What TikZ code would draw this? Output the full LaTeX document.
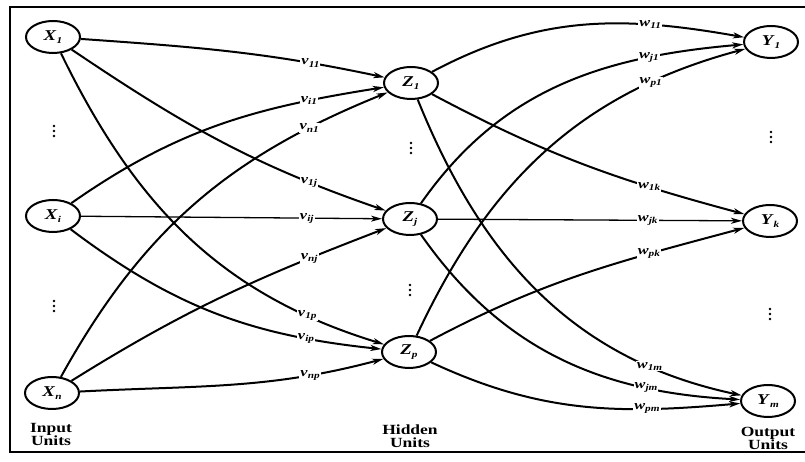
\documentclass[tikz,border=0pt]{standalone}
\usepackage{fontspec}
\setmainfont[FakeStretch=1.25]{Liberation Serif}
\usetikzlibrary{arrows.meta,shapes.geometric}
\newcommand{\lab}[2]{\textbf{\textit{#1}}\raisebox{-0.35ex}{\fontsize{9}{9}\selectfont\textbf{\textit{#2}}}}
\begin{document}
\begin{tikzpicture}[x=1pt,y=1pt,
  unit/.style={ellipse, draw, line width=2pt, minimum width=54pt, minimum height=32pt, inner sep=0pt, font=\fontsize{15}{17}\selectfont},
  conn/.style={line width=2pt, -{Stealth[length=11pt,width=6pt,inset=3pt]}},
  thinconn/.style={conn, line width=1.3pt},
  wl/.style={fill=white, inner sep=1pt, font=\fontsize{13}{13}\selectfont},
  capt/.style={align=center, inner sep=0pt, font=\fontsize{14}{13}\selectfont\bfseries},
  dotc/.style={circle, fill, inner sep=0pt, minimum size=2.6pt}]
\useasboundingbox (0,0) rectangle (805,462);
\draw[line width=2pt] (805,455) -- (10,455) -- (10,10) -- (805,10);

% nodes
\node[unit] (X1) at (53,425) {\lab{X}{1}};
\node[unit] (Xi) at (53,246) {\lab{X}{i}};
\node[unit] (Xn) at (52,69) {\lab{X}{n}};
\node[unit] (Z1) at (411,379) {\lab{Z}{1}};
\node[unit] (Zj) at (410,243) {\lab{Z}{j}};
\node[unit] (Zp) at (409,110) {\lab{Z}{p}};
\node[unit] (Y1) at (771,420) {\lab{Y}{1}};
\node[unit] (Yk) at (770,241) {\lab{Y}{k}};
\node[unit] (Ym) at (768,61) {\lab{Y}{m}};

% vertical dots
\foreach \n/\x/\y in {a/54/331, b/54/156, c/411/314, d/410/172, e/771/325, f/770/148}{
  \node[dotc] (\n1) at (\x,\y+5) {};
  \node[dotc] (\n2) at (\x,\y) {};
  \node[dotc] (\n3) at (\x,\y-5) {};
}

% captions
\node[capt] (ci) at (51,28) {Input\\Units};
\node[capt] (ch) at (410,26) {Hidden\\Units};
\node[capt] (co) at (768,24) {Output\\Units};

% input -> hidden
\draw[conn] (X1) to[out=-4,in=168] node[wl,pos=0.77]{\lab{v}{11}} (Z1);
\draw[conn] (X1) to[out=-34,in=161] node[wl,pos=0.785]{\lab{v}{1j}} (Zj);
\draw[conn] (X1) to[out=-64,in=163] node[wl,pos=0.83]{\lab{v}{1p}} (Zp);
\draw[conn] (Xi) to[out=35,in=-171] node[wl,pos=0.79]{\lab{v}{i1}} (Z1);
\draw[thinconn] (Xi) -- node[wl,pos=0.75]{\lab{v}{ij}} (Zj);
\draw[conn] (Xi) to[out=-37,in=174] node[wl,pos=0.79]{\lab{v}{ip}} (Zp);
\draw[conn] (Xn) to[out=61,in=-158] node[wl,pos=0.82]{\lab{v}{n1}} (Z1);
\draw[conn] (Xn) to[out=32,in=-159] node[wl,pos=0.78]{\lab{v}{nj}} (Zj);
\draw[conn] (Xn) to[out=3,in=-165] node[wl,pos=0.77]{\lab{v}{np}} (Zp);

% hidden -> output
\draw[conn] (Z1) to[out=28,in=170] node[wl,pos=0.72]{\lab{w}{11}} (Y1);
\draw[conn] (Z1) to[out=-28,in=165] node[wl,pos=0.72]{\lab{w}{1k}} (Yk);
\draw[conn] (Z1) to[out=-68,in=168] node[wl,pos=0.8]{\lab{w}{1m}} (Ym);
\draw[conn] (Zj) to[out=55,in=-175] node[wl,pos=0.76]{\lab{w}{j1}} (Y1);
\draw[thinconn] (Zj) -- node[wl,pos=0.69]{\lab{w}{jk}} (Yk);
\draw[conn] (Zj) to[out=-55,in=177] node[wl,pos=0.76]{\lab{w}{jm}} (Ym);
\draw[conn] (Zp) to[out=65,in=-165] node[wl,pos=0.79]{\lab{w}{p1}} (Y1);
\draw[conn] (Zp) to[out=28,in=-165] node[wl,pos=0.72]{\lab{w}{pk}} (Yk);
\draw[conn] (Zp) to[out=-25,in=-175] node[wl,pos=0.72]{\lab{w}{pm}} (Ym);
\end{tikzpicture}
\end{document}
